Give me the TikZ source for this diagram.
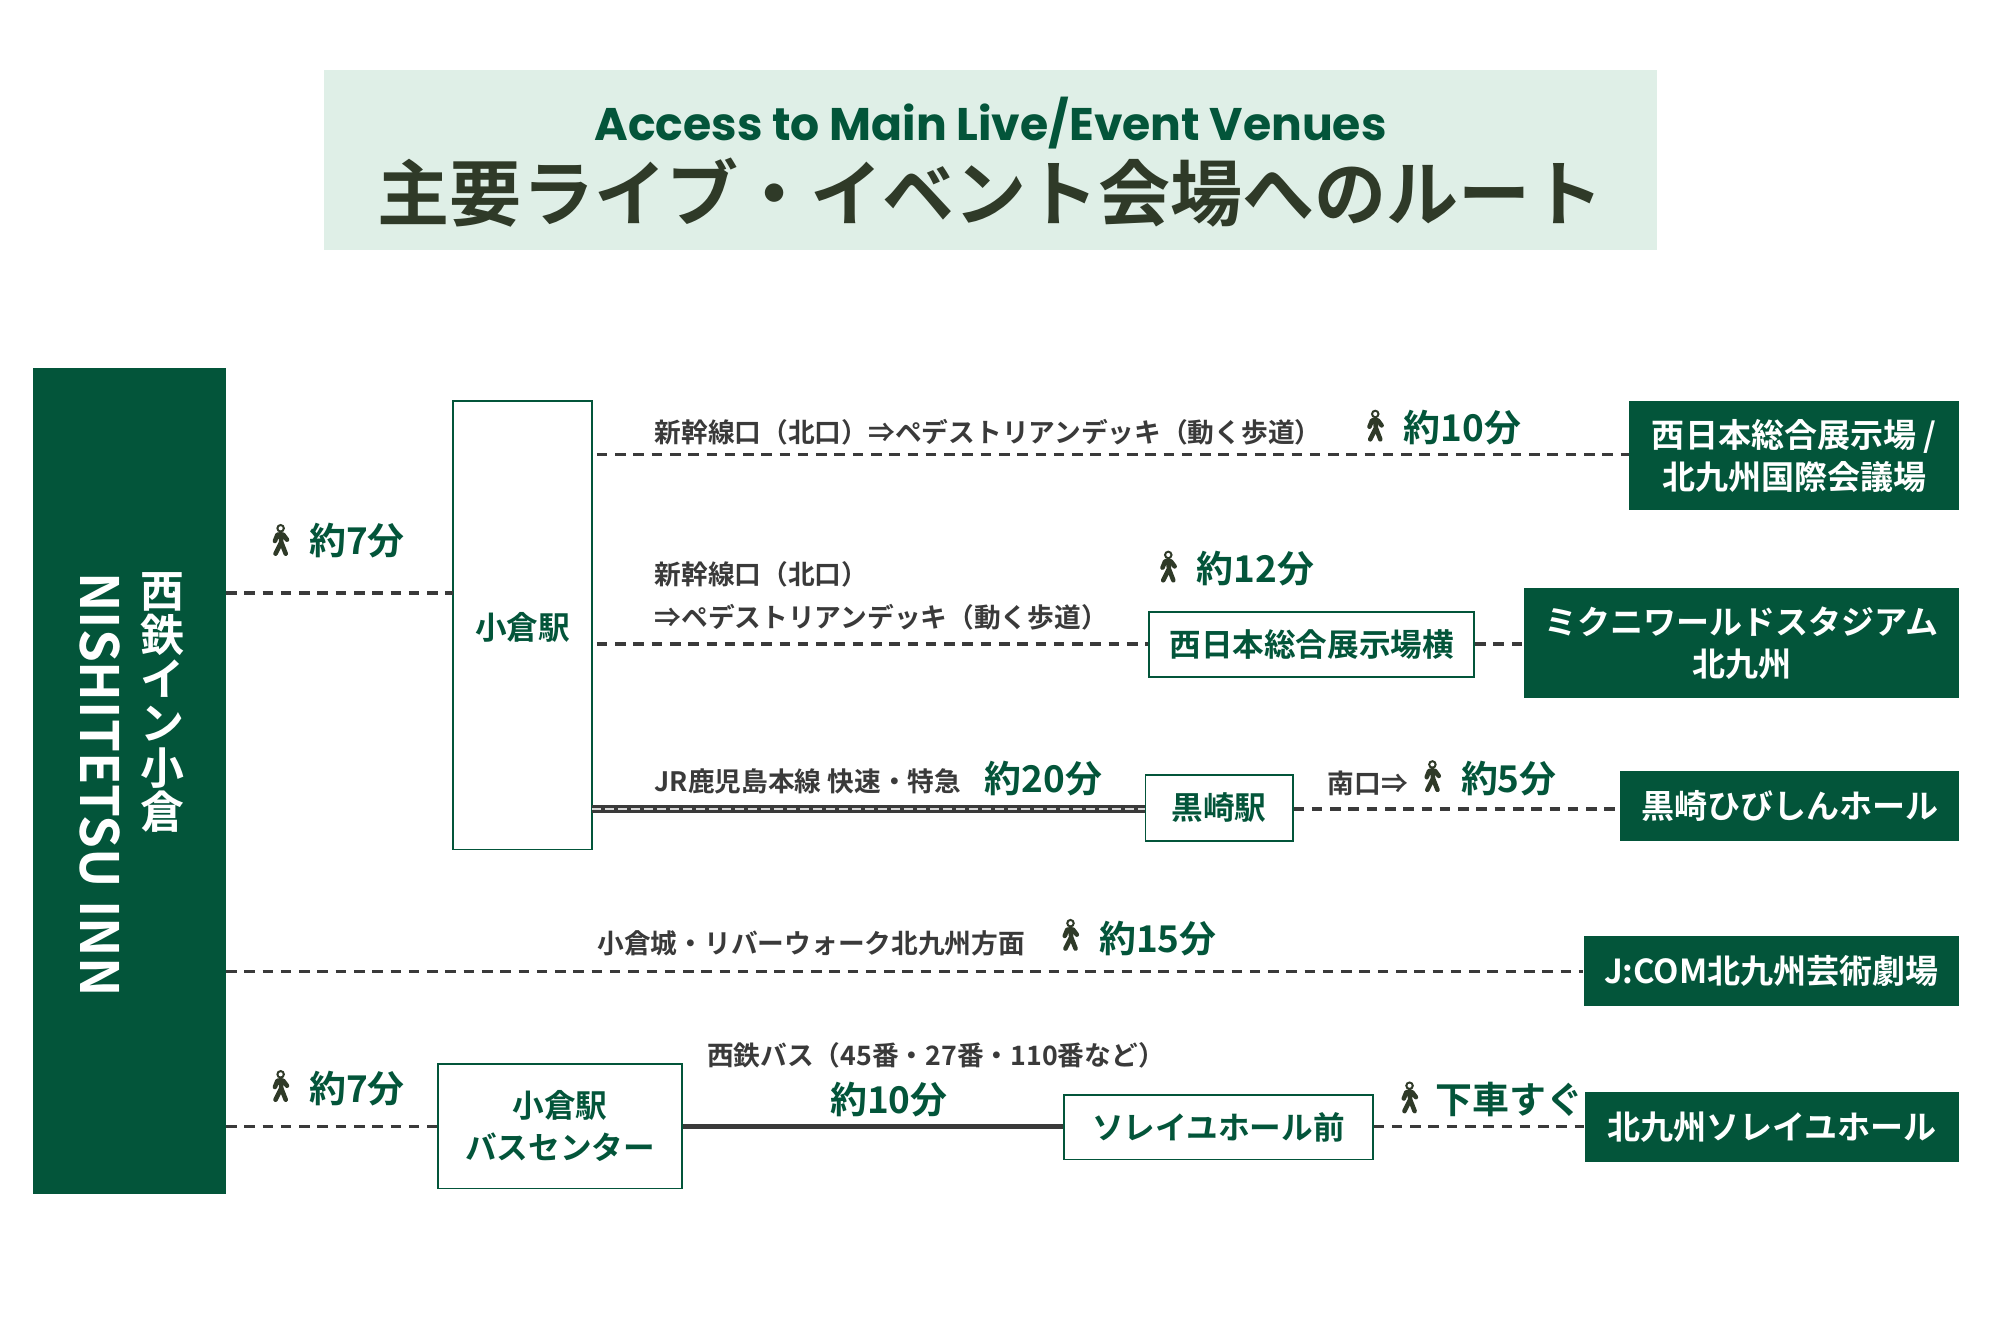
\documentclass[tikz,border=0pt]{standalone}
\usepackage{fontspec}
\setmainfont{Noto Sans CJK JP}[BoldFont={Noto Sans CJK JP Bold}]
\newfontfamily\popfont{Poppins}
\definecolor{dg}{HTML}{03553A}
\definecolor{lg}{HTML}{DFEFE7}
\definecolor{tx}{HTML}{3A3A3A}
\definecolor{tt}{HTML}{2F3A28}
\begin{document}
\begin{tikzpicture}[x=0.0127cm,y=-0.0127cm,
  venue/.style={fill=dg,draw=none,text=white,font=\bfseries\fontsize{9.4}{12}\selectfont,align=center,inner sep=0},
  stop/.style={fill=white,draw=dg,line width=0.5pt,text=dg,font=\bfseries\fontsize{9}{12}\selectfont,align=center,inner sep=0},
  lab/.style={text=tx,font=\bfseries\fontsize{7.6}{9}\selectfont,inner sep=0},
  tim/.style={text=dg,font=\bfseries\fontsize{10.5}{11}\selectfont,inner sep=0},
  dsh/.style={draw=tx,line width=1pt,dash pattern=on 3pt off 2.2pt},
  walker/.pic={\fill[tt] (0,-9) circle (3.4);\fill[white](0,-9) circle(1.6);
    \draw[tt,line width=1.3pt,line cap=round,line join=round] (0,-5)--(0.5,2) (-4,11)--(0.5,2)--(4,11) (-4.5,1)--(-2.5,-4)--(2,-4)--(5,0);}
]
\useasboundingbox (0,0) rectangle (1575,1050);
\fill[white] (0,0) rectangle (1575,1050);
% header
\fill[lg] (255,55) rectangle (1305,197);
\node[text=dg,font=\popfont\bfseries\fontsize{13}{15}\selectfont] (en) at (780,97) {Access to Main Live/Event Venues};
\node[text=tt,font=\bfseries\fontsize{20.5}{24}\selectfont] (jp) at (780,152) {主要ライブ・イベント会場へのルート};
% hotel
\node[fill=dg,minimum width=152*0.0127cm,minimum height=650*0.0127cm,inner sep=0] (hotel) at (102,615) {};
\node[anchor=north,text=white,align=center,font=\bfseries\fontsize{12.5}{12.6}\selectfont,inner sep=0] (hname) at (128,450) {西\\鉄\\イ\\ン\\小\\倉};
\node[rotate=-90,anchor=north west,text=white,font=\bfseries\fontsize{15}{18}\selectfont,inner sep=0] (hname2) at (95,450) {NISHITETSU INN};
% kokura station
\node[stop,minimum width=109*0.0127cm,minimum height=353*0.0127cm] (kok) at (411.5,492.5) {};
\node[text=dg,font=\bfseries\fontsize{9}{12}\selectfont] (kokt) at (411.5,494) {小倉駅};
\coordinate (h1) at (178,467); \coordinate (k1) at (357,467);
\draw[dsh] (h1)--(k1);
\pic at (221,425) {walker}; \node[tim,anchor=west] (t1) at (243,426) {約7分};
% row 1
\node[venue,minimum width=260*0.0127cm,minimum height=86*0.0127cm] (v1) at (1413,359) {西日本総合展示場 /\\北九州国際会議場};
\coordinate (k2) at (470,358);
\draw[dsh] (k2)--(v1.west|-k2);
\node[lab,anchor=west] (l1) at (515,340) {新幹線口（北口）⇒ペデストリアンデッキ（動く歩道）};
\pic at (1083,335) {walker}; \node[tim,anchor=west] (t2) at (1105,337) {約10分};
% row 2
\node[stop,minimum width=256*0.0127cm,minimum height=51*0.0127cm] (s2) at (1033,507.5) {西日本総合展示場横};
\node[venue,minimum width=343*0.0127cm,minimum height=87*0.0127cm] (v2) at (1371.5,506.5) {ミクニワールドスタジアム\\北九州};
\coordinate (k3) at (470,507);
\draw[dsh] (k3)--(s2.west|-k3); \draw[dsh] (s2.east|-k3)--(v2.west|-k3);
\node[lab,anchor=west] (l2a) at (515,452) {新幹線口（北口）};
\node[lab,anchor=west] (l2b) at (515,486) {⇒ペデストリアンデッキ（動く歩道）};
\pic at (920,446) {walker}; \node[tim,anchor=west] (t3) at (942,448) {約12分};
% row 3
\node[stop,minimum width=116*0.0127cm,minimum height=52*0.0127cm] (s3) at (960,636) {黒崎駅};
\node[venue,minimum width=267*0.0127cm,minimum height=55*0.0127cm] (v3) at (1409.5,634.5) {黒崎ひびしんホール};
\coordinate (k4) at (466,637);
\draw[tx,line width=2.4pt] (k4)--(s3.west|-k4);
\draw[white!80!tx,line width=0.8pt,dash pattern=on 2.5pt off 1.2pt] (k4)--(s3.west|-k4);
\draw[dsh] (s3.east|-k4)--(v3.west|-k4);
\node[lab,anchor=west] (l3) at (515,615) {JR鹿児島本線 快速・特急};
\node[tim,anchor=west] (t4) at (775,613) {約20分};
\node[lab,anchor=west] (l3b) at (1045,617) {南口⇒};
\pic at (1128,611) {walker}; \node[tim,anchor=west] (t5) at (1150,613) {約5分};
% row 4
\node[venue,minimum width=296*0.0127cm,minimum height=55*0.0127cm] (v4) at (1395,764.5) {J:COM北九州芸術劇場};
\coordinate (h4) at (178,765);
\draw[dsh] (h4)--(v4.west|-h4);
\node[lab,anchor=west] (l4) at (470,743) {小倉城・リバーウォーク北九州方面};
\pic at (843,736) {walker}; \node[tim,anchor=west] (t6) at (865,739) {約15分};
% row 5
\node[stop,minimum width=192*0.0127cm,minimum height=98*0.0127cm] (bc) at (441,887) {小倉駅\\バスセンター};
\node[stop,minimum width=243*0.0127cm,minimum height=51*0.0127cm] (s5) at (959.5,887.5) {ソレイユホール前};
\node[venue,minimum width=295*0.0127cm,minimum height=55*0.0127cm] (v5) at (1395.5,887.5) {北九州ソレイユホール};
\coordinate (h5) at (178,887);
\draw[dsh] (h5)--(bc.west|-h5);
\draw[tx,line width=1.6pt] (bc.east|-h5)--(s5.west|-h5);
\draw[dsh] (s5.east|-h5)--(v5.west|-h5);
\pic at (221,855) {walker}; \node[tim,anchor=west] (t7) at (243,857) {約7分};
\node[lab] (l5) at (737,831) {西鉄バス（45番・27番・110番など）};
\node[tim] (t8) at (700,866) {約10分};
\pic at (1110,864) {walker}; \node[tim,anchor=west] (t9) at (1130,866) {下車すぐ};
\end{tikzpicture}
\end{document}
